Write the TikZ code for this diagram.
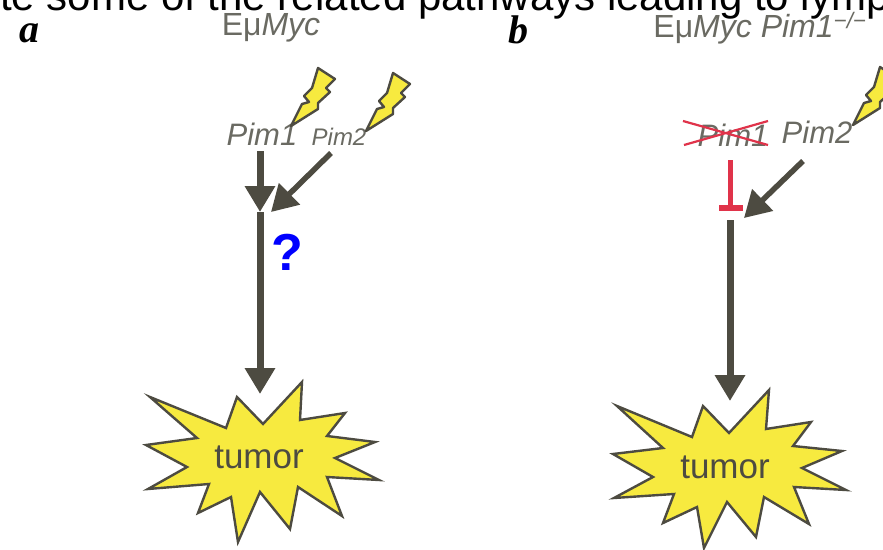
\documentclass[tikz,border=0pt]{standalone}
\usepackage{fontspec}
\setmainfont{Liberation Sans}
\newfontfamily\serifpart{Liberation Serif}
\usetikzlibrary{arrows.meta}
\definecolor{darkline}{HTML}{4D4B41}
\definecolor{stary}{HTML}{F7EA3F}
\definecolor{redx}{HTML}{E0334A}
\definecolor{labelgray}{HTML}{6A6A62}
\tikzset{
  x=1pt,y=-1pt,
  conn/.style={draw=darkline,line width=7pt,-{Triangle[length=26pt,width=29pt]}},
  diag/.style={draw=darkline,line width=5.5pt,-{Triangle[length=26pt,width=29pt]}},
  burst/.style={draw=darkline,fill=stary,line width=2.4pt,line join=miter,miter limit=20},
  bolt/.style={draw=darkline,fill=stary,line width=2.4pt,line join=round},
  gene/.style={text=labelgray,font=\fontsize{31}{31}\selectfont\itshape,inner sep=0pt},
  head/.style={text=labelgray,font=\fontsize{32}{32}\selectfont,inner sep=0pt},
  tumortext/.style={text=darkline,font=\fontsize{35}{35}\selectfont,inner sep=0pt},
  panel/.style={text=black,font=\serifpart\fontsize{40}{40}\selectfont\itshape\bfseries,inner sep=0pt},
  strike/.style={draw=redx,line width=2.2pt},
  boltpic/.pic={
    \draw[bolt] (291,126)--(302,104)--(309,102)--(304,96)--(312,88)--(318,68)--(335,79)--(326,88)--(330,92)--(318,103)--(318,109)--cycle;
  }
}
\begin{document}
\begin{tikzpicture}
\path[use as bounding box,clip] (0,0) rectangle (883,549);
\fill[white] (0,0) rectangle (883,549);
\node[anchor=base west,inner sep=0pt,text=black,font=\fontsize{42}{42}\selectfont] (cut) at (0,10) {te some of the related pathways leading to lymp};
\node[panel] (la) at (29,33) {a};
\node[panel] (lb) at (518,30) {b};
\node[head] (ha) at (271,28) {Eμ\textit{Myc}};
\node[head] (hb) at (760,28) {Eμ\textit{Myc Pim1}\textsuperscript{\textit{−/−}}};
% panel a
\node[gene] (p1a) at (262,134) {Pim1};
\node[gene,font=\fontsize{24}{24}\selectfont\itshape] (p2a) at (339,137) {Pim2};
\path (0,0) pic {boltpic};
\path (75,5) pic {boltpic};
\coordinate (ja) at (260,212);
\coordinate (jb) at (271,212);
\coordinate (ta) at (260,394);
\coordinate (sa) at (260,151);
\coordinate (da) at (331,153);
\draw[conn] (sa) -- (ja);
\draw[diag] (da) -- (jb);
\draw[conn] (ja) -- (ta);
\node[text=blue,font=\fontsize{52}{52}\selectfont\bfseries,inner sep=0pt] (q) at (287,252) {?};
\draw[burst] (150,397)--(226,428)--(237,397)--(263,424)--(302,382)--(300,420)--(345,413)--(327,436)--(375,442)--(335,458)--(379,480)--(327,477)--(342,516)--(298,487)--(290,529)--(260,492)--(238,542)--(231,497)--(198,513)--(209,484)--(148,489)--(187,467)--(146,445)--(197,438)--cycle;
\node[tumortext] (tuma) at (259,457) {tumor};
% panel b
\node[gene] (p1b) at (733,135) {Pim1};
\node[gene] (p2b) at (817,132) {Pim2};
\draw[strike] (683,121)--(768,145) (684,145)--(768,121);
\path (562,-1) pic {boltpic};
\coordinate (tb) at (730,160);
\coordinate (tc) at (730,208);
\coordinate (tl) at (719,208);
\coordinate (tr) at (743,208);
\draw[draw=redx,line width=5pt] (tb) -- (tc);
\draw[draw=redx,line width=6pt] (tl) -- (tr);
\coordinate (db) at (803,161);
\coordinate (jc) at (744,218);
\draw[diag] (db) -- (jc);
\coordinate (sb) at (730,220);
\coordinate (eb) at (730,401);
\draw[conn] (sb) -- (eb);
\draw[burst] (617,406)--(692,437)--(703,406)--(729,433)--(769,390)--(766,429)--(811,422)--(793,446)--(842,451)--(802,468)--(846,490)--(794,487)--(809,524)--(764,497)--(756,537)--(727,502)--(704,548)--(697,507)--(663,523)--(674,494)--(614,498)--(653,477)--(613,454)--(663,448)--cycle;
\node[tumortext] (tumb) at (725,467) {tumor};
\end{tikzpicture}
\end{document}
